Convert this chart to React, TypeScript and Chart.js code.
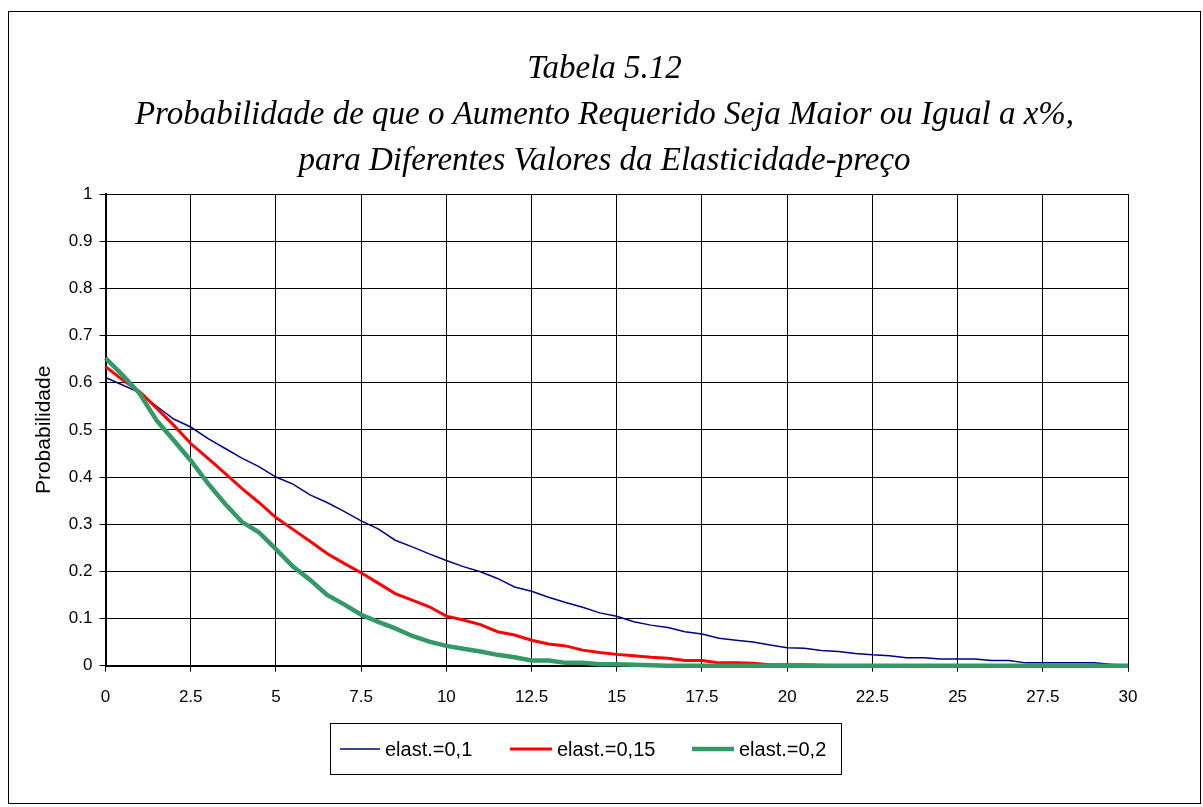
import React, { useEffect, useRef } from "react";
import { Chart, registerables } from "chart.js";

Chart.register(...registerables);

const TITLE_LINES = [
  "Tabela 5.12",
  "Probabilidade de que o Aumento Requerido Seja Maior ou Igual a x%,",
  "para Diferentes Valores da Elasticidade-preço",
];
const Y_TITLE = "Probabilidade";
const SERIES_LABELS = ["elast.=0,1", "elast.=0,15", "elast.=0,2"];

const X_VALUES = [
  0, 0.5, 1, 1.5, 2, 2.5, 3, 3.5, 4, 4.5, 5, 5.5, 6, 6.5, 7, 7.5, 8, 8.5, 9, 9.5,
  10, 10.5, 11, 11.5, 12, 12.5, 13, 13.5, 14, 14.5, 15, 15.5, 16, 16.5, 17, 17.5,
  18, 18.5, 19, 19.5, 20, 20.5, 21, 21.5, 22, 22.5, 23, 23.5, 24, 24.5, 25, 25.5,
  26, 26.5, 27, 27.5, 28, 28.5, 29, 29.5, 30,
];

const ELAST_01 = [
  0.611, 0.595, 0.579, 0.55, 0.523, 0.506, 0.482, 0.461, 0.44, 0.422, 0.4, 0.385,
  0.362, 0.346, 0.327, 0.307, 0.29, 0.266, 0.252, 0.237, 0.223, 0.21, 0.199, 0.185,
  0.167, 0.158, 0.145, 0.134, 0.124, 0.112, 0.105, 0.093, 0.086, 0.081, 0.072, 0.067,
  0.058, 0.054, 0.05, 0.044, 0.038, 0.037, 0.032, 0.03, 0.026, 0.023, 0.021, 0.017,
  0.017, 0.014, 0.014, 0.014, 0.011, 0.011, 0.006, 0.006, 0.006, 0.006, 0.006, 0.003,
  0.001,
];

const ELAST_015 = [
  0.634, 0.606, 0.581, 0.546, 0.51, 0.471, 0.44, 0.408, 0.376, 0.346, 0.314, 0.289,
  0.264, 0.238, 0.217, 0.197, 0.175, 0.153, 0.139, 0.125, 0.105, 0.097, 0.087, 0.072,
  0.065, 0.054, 0.046, 0.042, 0.033, 0.028, 0.024, 0.021, 0.018, 0.016, 0.011, 0.011,
  0.006, 0.006, 0.005, 0.002, 0.002, 0.002, 0.001, 0, 0, 0, 0, 0,
  0, 0, 0, 0, 0, 0, 0, 0, 0, 0, 0, 0,
  0,
];

const ELAST_02 = [
  0.652, 0.616, 0.577, 0.52, 0.478, 0.435, 0.387, 0.344, 0.305, 0.283, 0.247, 0.21,
  0.182, 0.15, 0.13, 0.108, 0.093, 0.079, 0.063, 0.051, 0.042, 0.036, 0.03, 0.023,
  0.018, 0.011, 0.011, 0.006, 0.006, 0.003, 0.003, 0.002, 0.001, 0, 0, 0,
  0, 0, 0, 0, 0, 0, 0, 0, 0, 0, 0, 0,
  0, 0, 0, 0, 0, 0, 0, 0, 0, 0, 0, 0,
  0,
];

const X_TICK_LABELS = ["0", "2.5", "5", "7.5", "10", "12.5", "15", "17.5", "20", "22.5", "25", "27.5", "30"];
const Y_TICK_LABELS = ["0", "0.1", "0.2", "0.3", "0.4", "0.5", "0.6", "0.7", "0.8", "0.9", "1"];

const SERIES_COLORS = ["#000080", "#FF0000", "#339966"];
const SERIES_WIDTHS = [1.5, 3, 4.5];

const W = 1203;
const H = 807;

const decorPlugin = {
  id: "decor",
  beforeDraw(chart: any) {
    const ctx = chart.ctx;
    ctx.save();
    ctx.fillStyle = "#ffffff";
    ctx.fillRect(0, 0, W, H);
    ctx.strokeStyle = "#000000";
    ctx.lineWidth = 1;
    ctx.strokeRect(8.5, 11.5, 1192, 792);
    ctx.restore();
  },
  afterDraw(chart: any) {
    const ctx = chart.ctx;
    ctx.save();
    // Title
    ctx.fillStyle = "#000000";
    ctx.font = "italic 33px 'Liberation Serif', 'Times New Roman', serif";
    ctx.textAlign = "center";
    ctx.textBaseline = "alphabetic";
    const baselines = [78, 124, 170];
    TITLE_LINES.forEach((t, i) => ctx.fillText(t, 604.5, baselines[i]));

    // Legend
    const bx = 330.5, by = 723.5, bw = 511, bh = 51;
    ctx.strokeStyle = "#000000";
    ctx.lineWidth = 1;
    ctx.strokeRect(bx, by, bw, bh);
    const ly = 749;
    const lineStarts = [340, 510, 692];
    const lineEnds = [380, 552, 734];
    const textStarts = [385, 557, 739];
    ctx.font = "20px 'Liberation Sans', Arial, sans-serif";
    ctx.textAlign = "left";
    ctx.textBaseline = "middle";
    chart.data.datasets.forEach((ds: any, i: number) => {
      ctx.strokeStyle = ds.borderColor;
      ctx.lineWidth = ds.borderWidth;
      ctx.beginPath();
      ctx.moveTo(lineStarts[i], ly);
      ctx.lineTo(lineEnds[i], ly);
      ctx.stroke();
      ctx.fillStyle = "#000000";
      ctx.fillText(ds.label, textStarts[i], ly + 1);
    });
    ctx.restore();
  },
};

export default function App() {
  const canvasRef = useRef<HTMLCanvasElement | null>(null);

  useEffect(() => {
    if (!canvasRef.current) return;
    const seriesValues = [ELAST_01, ELAST_015, ELAST_02];
    const chart = new Chart(canvasRef.current, {
      type: "line",
      data: {
        datasets: seriesValues.map((vals, i) => ({
          label: SERIES_LABELS[i],
          data: X_VALUES.map((x, j) => ({ x, y: vals[j] })),
          borderColor: SERIES_COLORS[i],
          backgroundColor: SERIES_COLORS[i],
          borderWidth: SERIES_WIDTHS[i],
          pointRadius: 0,
          tension: 0,
          fill: false,
          clip: false as any,
          order: 2 - i,
        })),
      },
      options: {
        animation: false,
        responsive: false,
        devicePixelRatio: 1,
        layout: { padding: { left: 0, top: 194, right: 75, bottom: 101.3 } },
        plugins: {
          legend: { display: false },
          title: { display: false },
          tooltip: { enabled: false },
        },
        scales: {
          x: {
            type: "linear",
            min: 0,
            max: 30,
            afterFit: (s: any) => {
              s.height = 40;
            },
            afterBuildTicks: (s: any) => {
              s.ticks = X_TICK_LABELS.map((l) => ({ value: parseFloat(l) }));
            },
            ticks: {
              color: "#000000",
              font: { family: "'Liberation Sans', Arial, sans-serif", size: 17 },
              padding: 15,
              maxRotation: 0,
              autoSkip: false,
              callback: (_v: any, i: number) => X_TICK_LABELS[i],
            },
            grid: { color: "#000000", lineWidth: 1, tickLength: 6, drawTicks: true },
            border: { display: true, color: "#000000", width: 2 },
          },
          y: {
            type: "linear",
            min: 0,
            max: 1,
            afterFit: (s: any) => {
              s.width = 105.5;
            },
            afterBuildTicks: (s: any) => {
              s.ticks = Y_TICK_LABELS.map((l) => ({ value: parseFloat(l) }));
            },
            ticks: {
              color: "#000000",
              font: { family: "'Liberation Sans', Arial, sans-serif", size: 17 },
              padding: 7,
              autoSkip: false,
              callback: (_v: any, i: number) => Y_TICK_LABELS[i],
            },
            grid: { color: "#000000", lineWidth: 1, tickLength: 6, drawTicks: true },
            border: { display: true, color: "#000000", width: 2 },
            title: {
              display: true,
              text: Y_TITLE,
              color: "#000000",
              font: { family: "'Liberation Sans', Arial, sans-serif", size: 21 },
              padding: { top: 32, bottom: 0 },
            },
          },
        },
      },
      plugins: [decorPlugin],
    } as any);
    return () => chart.destroy();
  }, []);

  return (
    <div style={{ position: "absolute", left: 0, top: 0, width: W, height: H }}>
      <canvas ref={canvasRef} width={W} height={H} style={{ display: "block" }} />
    </div>
  );
}
